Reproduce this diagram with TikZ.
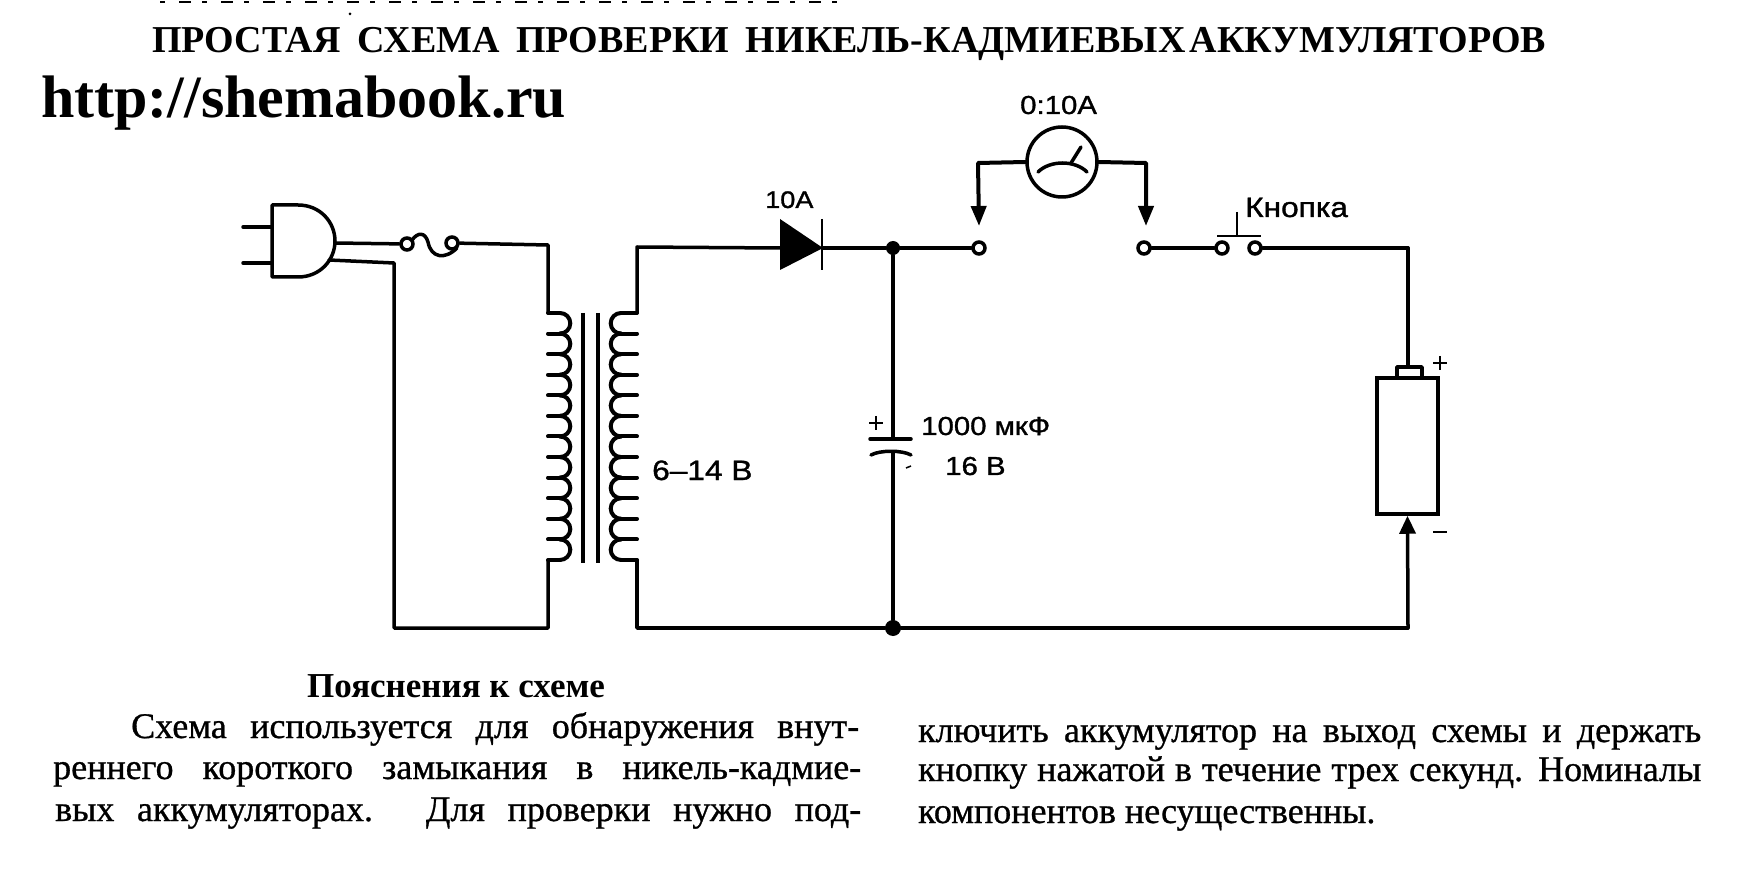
\documentclass[tikz,border=0pt]{standalone}
\usepackage{fontspec}
\setmainfont{Liberation Serif}
\newfontfamily\lblfont[FakeStretch=1.13,FakeBold=1.2]{Liberation Sans}
\newfontfamily\bodyfont[FakeBold=0.8]{Liberation Serif}
\usetikzlibrary{arrows.meta,shapes.geometric}
\tikzset{
  wire/.style={line width=3.5pt,line cap=round,line join=round},
  coilline/.style={line width=4pt,line cap=round},
  dotnode/.style={circle,fill=black,draw=none,minimum size=#1,inner sep=0pt},
  termnode/.style={circle,draw=black,fill=white,line width=3.5pt,minimum size=12pt,inner sep=0pt},
  pt/.style={inner sep=0pt,outer sep=0pt,minimum size=0pt},
  lbl/.style={anchor=base west,inner sep=0pt,font=\lblfont\fontsize{26}{26}\selectfont},
  lblbig/.style={anchor=base west,inner sep=0pt,font=\lblfont\fontsize{28}{28}\selectfont},
  lblsmall/.style={anchor=base west,inner sep=0pt,font=\lblfont\fontsize{24}{24}\selectfont},
  bodyline/.style={anchor=base west,inner sep=0pt,font=\bodyfont\fontsize{36}{36}\selectfont},
  probe/.style={line width=4pt,line cap=round,line join=round,-{Triangle[length=20pt,width=15pt]}},
}
\begin{document}
\begin{tikzpicture}[x=1pt,y=-1pt]
\useasboundingbox (0,0) rectangle (1738,890);
% scan remnant along the top edge
\draw[line width=1.2pt,dash pattern=on 5pt off 14pt on 12pt off 11pt] (160,2) -- (850,2);
\fill (350,14) circle (1.5pt);
% titles
\node[anchor=base west,inner sep=0pt,font=\bfseries\fontsize{38}{38}\selectfont] (title) at (152,53)
  {\makebox[1394pt][s]{ПРОСТАЯ\hskip 0pt plus 4fil СХЕМА\hskip 0pt plus 4fil ПРОВЕРКИ\hskip 0pt plus 4fil НИКЕЛЬ-КАДМИЕВЫХ\hskip 0pt plus 1fil АККУМУЛЯТОРОВ}};
\node[anchor=base west,inner sep=0pt,font=\bfseries\fontsize{60}{60}\selectfont] (url) at (41,118) {http://shemabook.ru};
% plug
\draw[wire] (272,205) -- (298,205) .. controls (320,205) and (335,222) .. (335,241) .. controls (335,260) and (320,277) .. (298,277) -- (272,277) -- cycle;
\coordinate (plugA) at (335,243);
\coordinate (plugB) at (329,260);
\coordinate (prongA) at (243,227);
\coordinate (prongAi) at (272,227);
\coordinate (prongB) at (243,263);
\coordinate (prongBi) at (272,263);
\draw[wire] (prongA) -- (prongAi);
\draw[wire] (prongB) -- (prongBi);
% fuse
\node[termnode] (fuseL) at (407,244) {};
\node[termnode] (fuseR) at (452,243) {};
\draw[wire] (412,240) .. controls (418,232) and (425,232) .. (428,242) .. controls (431,258) and (445,260) .. (457,248);
% transformer
\coordinate (priTop) at (548,313);
\coordinate (priBot) at (548,560);
\coordinate (secTop) at (637,313);
\coordinate (secBot) at (637,560);
\foreach \k in {0,...,12}{
  \draw[coilline] (548,{313+\k*20.58}) -- (560,{313+\k*20.58});
  \draw[coilline] (637,{313+\k*20.58}) -- (621,{313+\k*20.58});
}
\foreach \k in {0,...,11}{
  \draw[coilline] (560,{313+\k*20.58}) arc[start angle=-90,end angle=90,radius=10.29pt,y radius=-10.29pt];
  \draw[coilline] (621,{313+\k*20.58}) arc[start angle=-90,end angle=-270,radius=10.29pt,y radius=-10.29pt];
}
\draw[line width=4.5pt] (583,313) -- (583,563);
\draw[line width=4.5pt] (598,313) -- (598,563);
% diode
\node[pt] (diodeL) at (780,248) {};
\node[pt] (diodeR) at (823,248) {};
\fill (780,219) -- (823,248) -- (780,270) -- cycle;
\draw[line width=2.5pt] (822,219) -- (822,270);
% junctions and terminals
\node[dotnode=14pt] (jTop) at (893,248) {};
\node[dotnode=16pt] (jBot) at (893,628) {};
\node[termnode] (termL) at (979,248) {};
\node[termnode] (termR) at (1144,248) {};
\node[termnode] (btnL) at (1222,248) {};
\node[termnode] (btnR) at (1255,248) {};
% corners
\coordinate (c1) at (548,245);
\coordinate (c2) at (394,263);
\coordinate (c3) at (394,628);
\coordinate (c4) at (548,628);
\coordinate (c5) at (637,247);
\coordinate (c6) at (637,628);
\coordinate (c7) at (1408,248);
\coordinate (c8) at (1408,628);
% wiring
\draw[wire] (plugA) -- (fuseL);
\draw[wire] (fuseR) -- (c1) -- (priTop);
\draw[wire] (plugB) -- (c2) -- (c3) -- (c4) -- (priBot);
\draw[wire] (secTop) -- (c5) -- (diodeL);
\draw[wire] (diodeR) -- (jTop) -- (termL);
\draw[wire] (termR) -- (btnL);
\draw[wire] (btnR) -- (c7);
\draw[wire] (secBot) -- (c6) -- (jBot) -- (c8);
% button
\draw[line width=2.5pt] (1217,236) -- (1261,236);
\draw[line width=2.5pt] (1237,212) -- (1237,236);
% meter
\node[draw,line width=3.5pt,ellipse,minimum width=70pt,minimum height=70pt,inner sep=0pt] (meter) at (1062,162) {};
\coordinate (pL) at (978,163);
\coordinate (pR) at (1146,163);
\draw[probe] (meter.west) -- (pL) -- (979,226);
\draw[probe] (meter.east) -- (pR) -- (1146,226);
\draw[wire] (1038,172) .. controls (1050,160) and (1075,160) .. (1087,172);
\draw[line width=3.5pt,line cap=round] (1071,163) -- (1081,147);
% capacitor
\coordinate (capT) at (893,439);
\coordinate (capB) at (893,452);
\draw[wire] (jTop) -- (capT);
\draw[wire] (capB) -- (jBot);
\draw[wire] (870,439) -- (911,439);
\draw[wire] (871,455) .. controls (880,450) and (902,450) .. (911,455);
\draw[line width=2.5pt] (869,423) -- (883,423) (876,416) -- (876,430);
\draw[line width=1.5pt] (906,468) -- (911,466);
% battery
\node[draw,line width=3.5pt,rectangle,minimum width=61pt,minimum height=136pt,inner sep=0pt] (batt) at (1407.5,446) {};
\draw[wire] (1397,378) -- (1397,367) -- (1422,367) -- (1422,378);
\draw[wire] (c7) -- (1408,367);
\draw[wire,-{Triangle[length=18pt,width=16pt]}] (c8) -- (batt.south);
\draw[line width=2.2pt] (1433,363) -- (1447,363) (1440,356) -- (1440,370);
\draw[line width=2.2pt] (1433,532) -- (1447,532);
% labels
\node[lbl] (lMeter) at (1020,114) {0:10А};
\node[lblsmall] (lDiode) at (765,208) {10А};
\node[lblbig] (lBtn) at (1245,217) {Кнопка};
\node[lbl] (lCap) at (921,435) {1000 мкФ};
\node[lbl] (lCapV) at (945,475) {16 В};
\node[lblbig] (lSec) at (652,480) {6–14 В};
% text
\node[bodyline,font=\bfseries\fontsize{35}{35}\selectfont] (hd) at (307,697) {Пояснения к схеме};
\node[bodyline] (a1) at (131,738) {\makebox[728pt][s]{Схема используется для обнаружения внут-}};
\node[bodyline] (a2) at (53,779) {\makebox[808pt][s]{реннего короткого замыкания в никель-кадмие-}};
\node[bodyline] (a3) at (55,821) {\makebox[806pt][s]{вых аккумуляторах. Для проверки нужно под-}};
\node[bodyline] (b1) at (918,742) {\makebox[783pt][s]{ключить аккумулятор на выход схемы и держать}};
\node[bodyline] (b2) at (918,781) {\makebox[783pt][s]{кнопку нажатой в течение трех секунд. Номиналы}};
\node[bodyline] (b3) at (918,823) {компонентов несущественны.};
\end{tikzpicture}
\end{document}
